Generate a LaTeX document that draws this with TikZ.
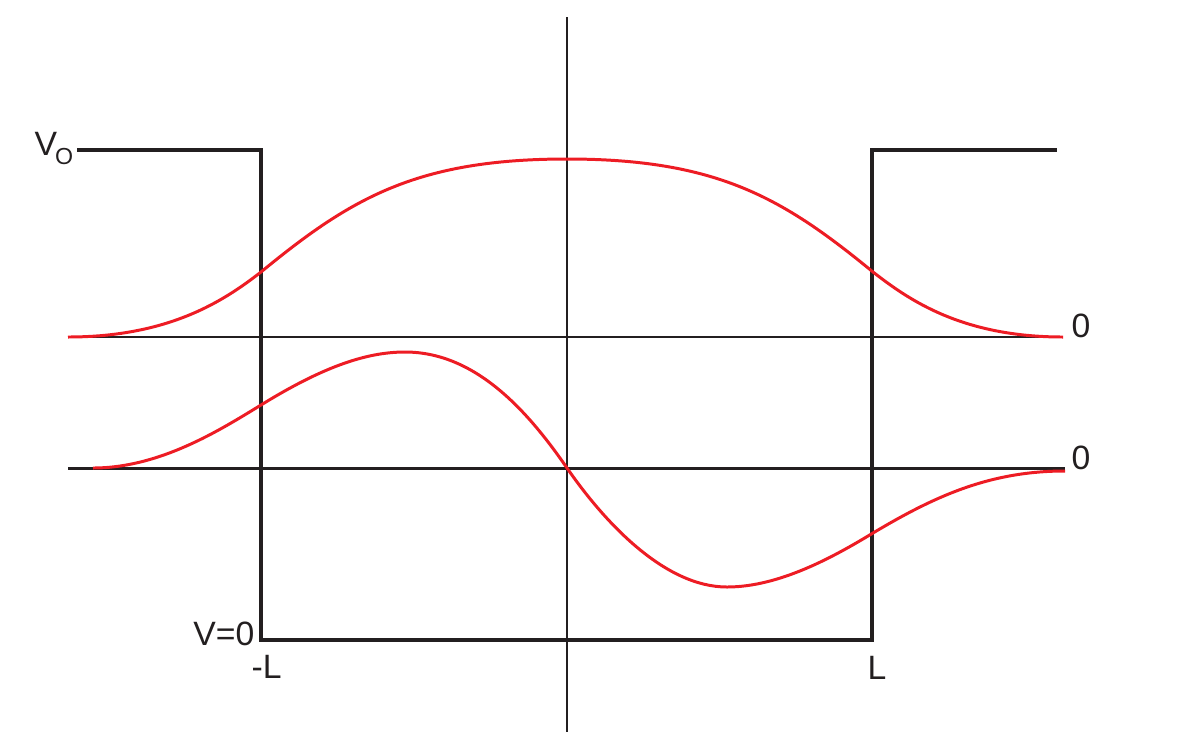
\documentclass[tikz,border=0pt]{standalone}
\usepackage{xcolor}
\usepackage{fontspec}
\setmainfont{Liberation Sans}
\usepackage{tikz}

\definecolor{wavered}{RGB}{237,28,36}
\definecolor{inkblack}{RGB}{35,31,32}

\tikzset{
    well/.style={draw=inkblack, line width=1pt},
    axis/.style={draw=inkblack, line width=0.6pt},
    wave/.style={draw=wavered, line width=0.85pt},
    lbl/.style={inner sep=0pt, text=inkblack}
}

\begin{document}
\begin{tikzpicture}[x=0.1mm, y=-0.1mm, font=\fontsize{9.6}{11}\selectfont]
        \useasboundingbox (0,0) rectangle (1194,732);

        % potential well
        \coordinate (wl) at (77,150);
        \coordinate (wla) at (261,150);
        \coordinate (wlb) at (261,640);
        \coordinate (wrb) at (872,640);
        \coordinate (wra) at (872,150);
        \coordinate (wr) at (1057,150);
        \draw[well] (wl) -- (wla) -- (wlb) -- (wrb) -- (wra) -- (wr);

        % axes
        \coordinate (vtop) at (567,17);
        \coordinate (vbot) at (567,732);
        \coordinate (ua) at (68,337);
        \coordinate (ub) at (1063,337);
        \coordinate (la) at (68,468);
        \coordinate (lb) at (1065,468);
        \draw[axis] (vtop) -- (vbot);
        \draw[axis] (ua) -- (ub);
        \draw[axis, line width=0.85pt] (la) -- (lb);

        % labels
        \node[lbl, anchor=base west] at (34,155) (vo) {V\kern-0.6pt\raisebox{-2.8pt}{\fontsize{6.6}{7}\selectfont O}};
        \node[lbl, anchor=base west] at (1071,337) (zu) {0};
        \node[lbl, anchor=base west] at (1071,469) (zl) {0};
        \node[lbl, anchor=base east] at (255,645) (vz) {V=0};
        \node[lbl, anchor=base west] at (251,678) (ml) {-L};
        \node[lbl, anchor=base west] at (867,679) (pl) {L};

        % wave functions
        \draw[wave] (68,337) .. controls (170,337) and (225,300) .. (261,272)
            .. controls (351,198) and (417,159) .. (567,159)
            .. controls (717,159) and (783,198) .. (873,272)
            .. controls (909,300) and (962,337) .. (1063,337);
        \draw[wave] (93,468) .. controls (160,468) and (220,430) .. (261,405)
            .. controls (321,368) and (365,352) .. (405,352)
            .. controls (475,352) and (527,410) .. (567,468)
            .. controls (605,523) and (665,587) .. (727,587)
            .. controls (780,587) and (835,556) .. (873,533)
            .. controls (935,496) and (990,471) .. (1065,471);
    \end{tikzpicture}
\end{document}
